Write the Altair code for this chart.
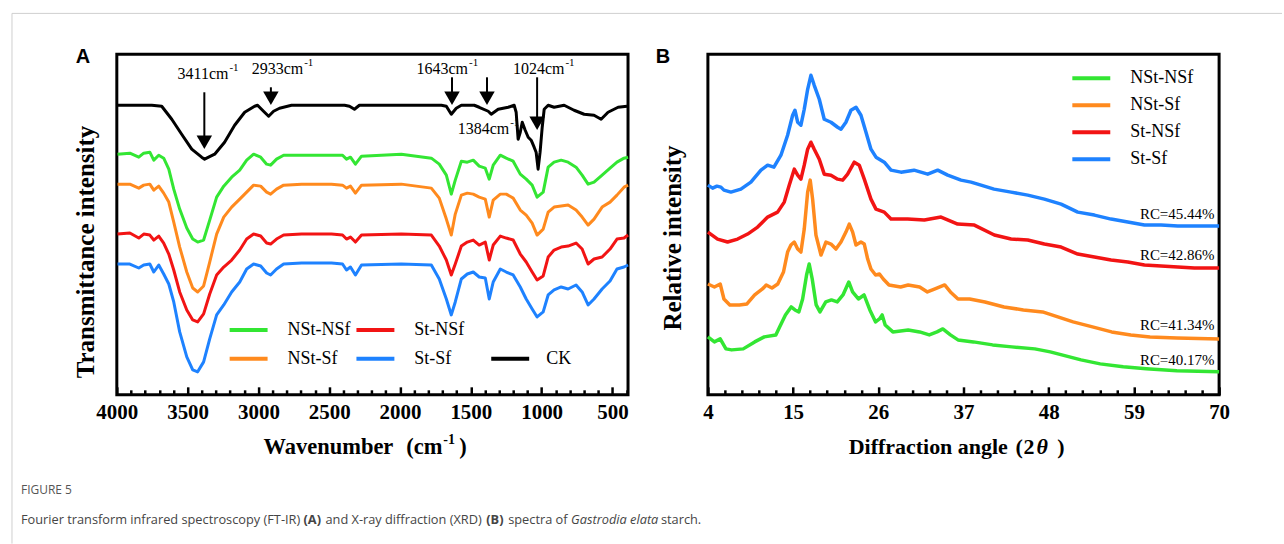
import altair as alt
import pandas as pd

SERIF = "Liberation Serif"
SANS = "Liberation Sans"
CAP = "Open Sans"
W, H = 512, 341

# ---------------- FT-IR (panel A) ----------------
FTIR_WN = [3995, 3908, 3845, 3810, 3767, 3739, 3704, 3669, 3633, 3598, 3556, 3506, 3464, 3429,
           3387, 3344, 3295, 3245, 3189, 3132, 3083, 3034, 2984, 2942, 2914, 2872, 2822, 2695,
           2484, 2406, 2378, 2350, 2315, 2272, 1991, 1779, 1723, 1673, 1638, 1610, 1567, 1525,
           1483, 1441, 1398, 1370, 1342, 1292, 1250, 1201, 1151, 1109, 1067, 1032, 989, 954,
           912, 862, 813, 757, 714, 672, 630, 573, 517, 468, 418, 390]
FTIR_NST_NSF = [241, 242, 238, 242, 243, 235, 240, 237, 226, 206, 186, 167, 156, 153, 155, 175, 198,
                209, 218, 225, 235, 241, 238, 231, 230, 236, 240, 240, 240, 240, 236, 238, 231, 239,
                241, 237, 231, 220, 201, 215, 234, 233, 235, 229, 227, 216, 230, 240, 237, 234, 221,
                216, 210, 198, 203, 228, 233, 235, 233, 228, 220, 211, 213, 220, 227, 233, 237, 238]
FTIR_NST_SF = [211, 211, 207, 210, 211, 205, 209, 202, 193, 173, 148, 123, 107, 103, 109, 133, 161,
               178, 188, 196, 203, 210, 209, 203, 201, 206, 210, 211, 211, 210, 207, 209, 202, 210,
               211, 207, 197, 176, 160, 181, 200, 202, 201, 198, 196, 178, 195, 201, 201, 197, 185,
               180, 172, 160, 166, 183, 188, 189, 190, 185, 178, 170, 176, 188, 193, 200, 208, 210]
FTIR_ST_NSF = [161, 162, 157, 161, 160, 155, 159, 152, 141, 125, 103, 85, 75, 73, 81, 101, 120, 128,
               135, 145, 156, 161, 159, 152, 151, 156, 160, 161, 161, 160, 156, 158, 153, 160, 161,
               160, 149, 135, 120, 131, 149, 153, 155, 150, 153, 135, 150, 159, 157, 155, 141, 133,
               123, 115, 119, 138, 145, 148, 149, 152, 146, 131, 136, 138, 146, 156, 157, 160]
FTIR_ST_SF = [131, 131, 127, 130, 131, 123, 130, 121, 111, 93, 63, 38, 25, 23, 33, 56, 80, 90, 103,
              113, 126, 131, 129, 122, 120, 126, 131, 132, 132, 131, 125, 128, 120, 130, 131, 130,
              116, 96, 80, 93, 116, 121, 123, 118, 117, 96, 113, 126, 123, 120, 108, 96, 86, 78, 83,
              100, 105, 108, 106, 110, 103, 90, 96, 106, 114, 126, 128, 130]
CK_WN = [3995, 3894, 3753, 3683, 3612, 3542, 3471, 3401, 3380, 3309, 3239, 3168, 3097, 3027, 3006,
         2964, 2928, 2893, 2851, 2766, 2555, 2392, 2357, 2322, 2287, 1991, 1708, 1673, 1638, 1603,
         1567, 1476, 1441, 1377, 1356, 1307, 1236, 1194, 1180, 1166, 1151, 1137, 1116, 1095, 1074,
         1053, 1039, 1025, 1011, 996, 982, 954, 912, 841, 771, 700, 630, 580, 531, 460, 397]
CK_T = [290, 290, 290, 289, 276, 261, 246, 238, 236, 241, 253, 270, 283, 289, 290, 284, 279, 284,
        287, 290, 290, 290, 289, 286, 290, 290, 290, 289, 281, 287, 290, 290, 288, 284, 281, 286,
        288, 290, 283, 256, 263, 273, 265, 258, 255, 248, 243, 226, 243, 268, 286, 290, 288, 290,
        285, 281, 280, 276, 283, 288, 289]

FTIR_TICKS = [4000, 3500, 3000, 2500, 2000, 1500, 1000, 500]
PEAK_WN = [3382, 2912, 1633, 1386, 1032]
PEAK_TOP = [303, 308, 318, 318, 318]
PEAK_HEAD = [253, 297, 297, 297, 272]
LABEL_TEXT = ["3411cm", "2933cm", "1643cm", "1384cm", "1024cm"]
LABEL_WN = [3212, 2684, 1520, 1229, 839]
LABEL_T = [316, 321, 321, 261, 321]

# ---------------- XRD (panel B) ----------------
XRD_NST_NSF_X = [4.0, 4.84, 5.59, 6.33, 7.07, 8.56, 10.04, 11.28, 12.77, 13.26, 14.01, 14.75, 15.24,
                 15.74, 16.23, 16.74, 17.08, 17.47, 17.98, 18.47, 19.22, 19.95, 20.7, 21.44, 22.19,
                 22.68, 23.43, 24.16, 24.91, 25.65, 26.15, 26.5, 26.89, 27.88, 29.86, 31.34, 32.58,
                 33.58, 34.33, 35.31, 36.29, 38.28, 40.76, 43.24, 46.21, 48.2, 49.69, 52.17, 54.65,
                 57.62, 60.59, 64.55, 70.0]
XRD_NST_NSF_Y = [58, 53, 56, 46, 45, 46, 53, 58, 60, 68, 80, 88, 85, 83, 96, 120, 131, 116, 90, 83,
                 93, 95, 93, 100, 113, 103, 96, 100, 85, 73, 76, 80, 70, 63, 65, 63, 60, 63, 66, 60,
                 55, 53, 50, 48, 46, 43, 40, 35, 31, 28, 26, 24, 23]
XRD_NST_SF_X = [4.0, 4.84, 5.59, 6.07, 6.83, 8.07, 9.04, 10.04, 11.04, 11.53, 12.27, 13.02, 13.76,
                14.29, 14.72, 15.15, 15.59, 16.01, 16.44, 16.88, 17.21, 17.52, 17.95, 18.6, 19.24,
                19.89, 20.53, 21.18, 21.82, 22.25, 22.69, 23.12, 23.76, 24.19, 24.63, 25.05, 25.65,
                26.15, 26.64, 27.38, 28.88, 29.86, 31.34, 32.34, 33.32, 34.57, 35.31, 36.29, 37.79,
                39.77, 42.23, 44.73, 47.21, 49.18, 51.15, 53.65, 56.12, 58.6, 61.08, 64.55, 70.0]
XRD_NST_SF_Y = [111, 108, 111, 96, 90, 90, 91, 100, 106, 110, 107, 111, 123, 143, 150, 153, 146,
                143, 166, 203, 215, 196, 160, 140, 153, 151, 146, 153, 163, 171, 163, 150, 153, 151,
                136, 126, 120, 121, 116, 110, 108, 110, 108, 103, 106, 110, 103, 96, 96, 93, 88, 85,
                83, 78, 73, 68, 63, 60, 58, 57, 56]
XRD_ST_NSF_X = [4.0, 5.25, 6.54, 7.84, 9.13, 10.42, 11.71, 13.0, 13.86, 14.5, 15.15, 15.59, 16.01,
                16.44, 16.88, 17.3, 17.73, 18.38, 19.02, 19.89, 20.75, 21.4, 22.04, 22.9, 23.54,
                24.19, 25.05, 25.7, 26.77, 27.64, 29.79, 31.94, 34.1, 36.25, 38.4, 40.98, 43.14,
                45.29, 47.44, 49.6, 51.75, 53.9, 56.05, 58.21, 60.36, 62.51, 64.67, 66.81, 70.0]
XRD_ST_NSF_Y = [163, 156, 153, 156, 161, 168, 178, 183, 193, 210, 226, 220, 216, 230, 246, 253, 246,
                236, 221, 220, 216, 215, 221, 233, 230, 216, 196, 186, 183, 176, 176, 175, 178, 171,
                170, 160, 156, 155, 151, 148, 141, 138, 135, 133, 130, 129, 128, 127, 127]
XRD_ST_SF_X = [4.0, 4.61, 5.16, 5.68, 6.07, 6.97, 8.26, 9.55, 10.85, 11.71, 12.52, 13.43, 14.29,
               14.94, 15.24, 15.59, 16.01, 16.44, 16.88, 17.3, 17.73, 18.38, 19.02, 19.89, 20.75,
               21.18, 21.82, 22.47, 23.12, 23.76, 24.41, 25.05, 25.7, 26.77, 27.64, 28.93, 30.61,
               32.38, 33.67, 34.96, 36.68, 37.97, 39.26, 40.94, 43.14, 45.29, 47.44, 49.6, 51.75,
               53.9, 56.05, 58.21, 60.36, 62.51, 64.67, 66.81, 70.0]
XRD_ST_SF_Y = [210, 207, 209, 208, 205, 203, 206, 213, 225, 230, 228, 240, 260, 280, 285, 273, 270,
               286, 306, 320, 310, 296, 276, 273, 268, 266, 273, 285, 288, 280, 263, 246, 238, 233,
               225, 223, 225, 221, 225, 220, 215, 213, 210, 206, 203, 200, 196, 191, 183, 180, 176,
               173, 170, 170, 169, 169, 169]
XRD_TICKS = [4, 15, 26, 37, 48, 59, 70]
RC_TEXT = ["RC=45.44%", "RC=42.86%", "RC=41.34%", "RC=40.17%"]
RC_Y = [176, 135, 65, 30]

SERIES = ["NSt-NSf", "NSt-Sf", "St-NSf", "St-Sf", "CK"]
COLORS = ["#33E633", "#FF8A1E", "#F21414", "#1E82FF", "#000000"]

# ---------------- tables ----------------
ftir_rows = []
for name, vals in zip(SERIES[:4], [FTIR_NST_NSF, FTIR_NST_SF, FTIR_ST_NSF, FTIR_ST_SF]):
    for w, t in zip(FTIR_WN, vals):
        ftir_rows.append({"series": name, "wn": w, "t": t})
for w, t in zip(CK_WN, CK_T):
    ftir_rows.append({"series": "CK", "wn": w, "t": t})
ftir = pd.DataFrame(ftir_rows)

xrd_rows = []
for name, xs, ys in [("NSt-NSf", XRD_NST_NSF_X, XRD_NST_NSF_Y), ("NSt-Sf", XRD_NST_SF_X, XRD_NST_SF_Y),
                     ("St-NSf", XRD_ST_NSF_X, XRD_ST_NSF_Y), ("St-Sf", XRD_ST_SF_X, XRD_ST_SF_Y)]:
    for a, b in zip(xs, ys):
        xrd_rows.append({"series": name, "tt": a, "i": b})
xrd = pd.DataFrame(xrd_rows)

peaks = pd.DataFrame({"wn": PEAK_WN, "top": PEAK_TOP, "head": PEAK_HEAD})
labels = pd.DataFrame({"wn": LABEL_WN, "t": LABEL_T, "txt": LABEL_TEXT})
rc = pd.DataFrame({"tt": [69.4] * 4, "i": RC_Y, "txt": RC_TEXT})

ONE = alt.Data(values=[{"k": 0}])
COLOR = alt.Color("series:N", scale=alt.Scale(domain=SERIES, range=COLORS), legend=None)
YS = alt.Scale(domain=[0, 341], nice=False, zero=False)
XA = alt.Scale(domain=[390, 4000], reverse=True, nice=False, zero=False)
XB = alt.Scale(domain=[4, 70], nice=False, zero=False)
FRAME = alt.ViewBackground(stroke="black", strokeWidth=3, fill="white")


def major_axis(values, fmt):
    return alt.Axis(values=values, orient="bottom", title=None, grid=False, domain=False,
                    tickSize=8, tickWidth=2.5, tickColor="black", offset=-8, labelPadding=7,
                    labelFont=SERIF, labelFontWeight="bold", labelFontSize=21, labelColor="black",
                    labelFlush=False, labelOverlap=False, format=fmt)


def minor_axis(values):
    return alt.Axis(values=values, orient="bottom", title=None, grid=False, domain=False,
                    labels=False, tickSize=5, tickWidth=2.5, tickColor="black", offset=-5)


def text(t, x, y, size, weight="normal", style="normal", font=SERIF, align="left",
         baseline="alphabetic", color="black", angle=0):
    return alt.Chart(ONE).mark_text(text=t, font=font, fontSize=size, fontWeight=weight,
                                    fontStyle=style, align=align, baseline=baseline, color=color,
                                    angle=angle).encode(x=alt.value(x), y=alt.value(y))


def legend_line(x1, x2, y, color):
    return alt.Chart(ONE).mark_rule(color=color, strokeWidth=4).encode(
        x=alt.value(x1), x2=alt.value(x2), y=alt.value(y))


# ---------------- panel A ----------------
minors_a = [w for w in range(3900, 399, -100) if w % 500]
lines_a = alt.Chart(ftir).mark_line(strokeWidth=3, strokeJoin="round").encode(
    x=alt.X("wn:Q", scale=XA, axis=major_axis(FTIR_TICKS, "d")),
    y=alt.Y("t:Q", scale=YS, axis=None),
    color=COLOR, detail="series:N")
arrow_rule = alt.Chart(peaks).mark_rule(strokeWidth=2, color="black").encode(
    x=alt.X("wn:Q", scale=XA, axis=minor_axis(minors_a)),
    y=alt.Y("top:Q", scale=YS, axis=None), y2="head:Q")
arrow_head = alt.Chart(peaks).mark_point(shape="triangle-down", filled=True, size=240,
                                         color="black", opacity=1).encode(
    x=alt.X("wn:Q", scale=XA, axis=None), y=alt.Y("head:Q", scale=YS, axis=None))
ann = alt.Chart(labels).mark_text(font=SERIF, fontSize=16, align="right", baseline="alphabetic",
                                  color="black").encode(
    x=alt.X("wn:Q", scale=XA, axis=None), y=alt.Y("t:Q", scale=YS, axis=None), text="txt:N")
ann_sup = alt.Chart(labels).mark_text(font=SERIF, fontSize=11, align="left", baseline="alphabetic",
                                      color="black", dx=1, dy=-8, text="-1").encode(
    x=alt.X("wn:Q", scale=XA, axis=None), y=alt.Y("t:Q", scale=YS, axis=None))

legend_a = []
cols_a = {"NSt-NSf": (113, 0), "NSt-Sf": (113, 1), "St-NSf": (240, 0), "St-Sf": (240, 1), "CK": (375, 1)}
for name, col in zip(SERIES, COLORS):
    cx, row = cols_a[name]
    yy = 276 + row * 29
    legend_a.append(legend_line(cx, cx + 38, yy, col))
    legend_a.append(text(name, cx + 58 if name != "CK" else cx + 55, yy, 18, baseline="middle"))

border = [
    alt.Chart(ONE).mark_rule(color="#cfcfcf", strokeWidth=1).encode(
        x=alt.value(-105), x2=alt.value(1167), y=alt.value(-41)),
    alt.Chart(ONE).mark_rule(color="#cfcfcf", strokeWidth=1).encode(
        x=alt.value(-105), y=alt.value(-41), y2=alt.value(490)),
]

titles_a = [
    text("A", -34, 9, 20, weight="bold", font=SANS, align="center"),
    text("Transmittance intensity", -31, 198, 25, weight="bold", align="center",
         baseline="middle", angle=270),
    text("Wavenumber", 147, 400, 22.5, weight="bold"),
    text("(cm", 290, 400, 22.5, weight="bold"),
    text("-1", 327, 390, 14, weight="bold"),
    text(")", 343, 400, 22.5, weight="bold"),
]

CAPC = "#454545"
CS = 12.8
caption = [
    text("FIGURE 5", -96, 440, 12, font=CAP, color="#555555"),
    text("Fourier transform infrared spectroscopy (FT-IR)", -96, 470, CS, font=CAP, color=CAPC),
    text("(A)", 187, 470, CS, font=CAP, weight="bold", color=CAPC),
    text("and X-ray diffraction (XRD)", 209, 470, CS, font=CAP, color=CAPC),
    text("(B)", 370, 470, CS, font=CAP, weight="bold", color=CAPC),
    text("spectra of", 392, 470, CS, font=CAP, color=CAPC),
    text("Gastrodia elata", 455, 470, CS, font=CAP, style="italic", color=CAPC),
    text("starch.", 545, 470, CS, font=CAP, color=CAPC),
]

panel_a = alt.layer(*border, lines_a, arrow_rule, arrow_head, ann, ann_sup, *legend_a, *titles_a,
                    *caption).resolve_axis(x="independent").properties(width=W, height=H, view=FRAME)

# ---------------- panel B ----------------
minors_b = [round(a + 2.2 * k, 1) for a in XRD_TICKS[:-1] for k in range(1, 5)]
lines_b = alt.Chart(xrd).mark_line(strokeWidth=3.5, strokeJoin="round").encode(
    x=alt.X("tt:Q", scale=XB, axis=major_axis(XRD_TICKS, "d")),
    y=alt.Y("i:Q", scale=YS, axis=None),
    color=COLOR, detail="series:N")
rc_text = alt.Chart(rc).mark_text(font=SERIF, fontSize=15, align="right", baseline="alphabetic",
                                  color="black").encode(
    x=alt.X("tt:Q", scale=XB, axis=minor_axis(minors_b)),
    y=alt.Y("i:Q", scale=YS, axis=None), text="txt:N")

legend_b = []
for k, (name, col) in enumerate(zip(SERIES[:4], COLORS[:4])):
    yy = 24 + k * 27
    legend_b.append(legend_line(365, 403, yy, col))
    legend_b.append(text(name, 423, yy, 18, baseline="middle"))

titles_b = [
    text("B", -45, 9, 20, weight="bold", font=SANS, align="center"),
    text("Relative intensity", -35, 184, 25, weight="bold", align="center",
         baseline="middle", angle=270),
    text("Diffraction angle", 141, 400, 22, weight="bold"),
    text("(", 308, 400, 22, weight="bold"),
    text("2", 316, 400, 22, weight="bold"),
    text("\u03b8", 329, 400, 22, weight="bold", style="italic"),
    text(")", 350, 400, 22, weight="bold"),
]

panel_b = alt.layer(lines_b, rc_text, *legend_b, *titles_b).resolve_axis(
    x="independent").properties(width=W, height=H, view=FRAME)

chart = alt.hconcat(panel_a, panel_b, spacing=80, bounds="flush").properties(
    padding={"left": 10, "top": 11, "right": 0, "bottom": 0}
).configure_view(stroke="black", strokeWidth=3).configure(background="white")

chart.save("out.html", embed_options={"renderer": "svg", "actions": False})
